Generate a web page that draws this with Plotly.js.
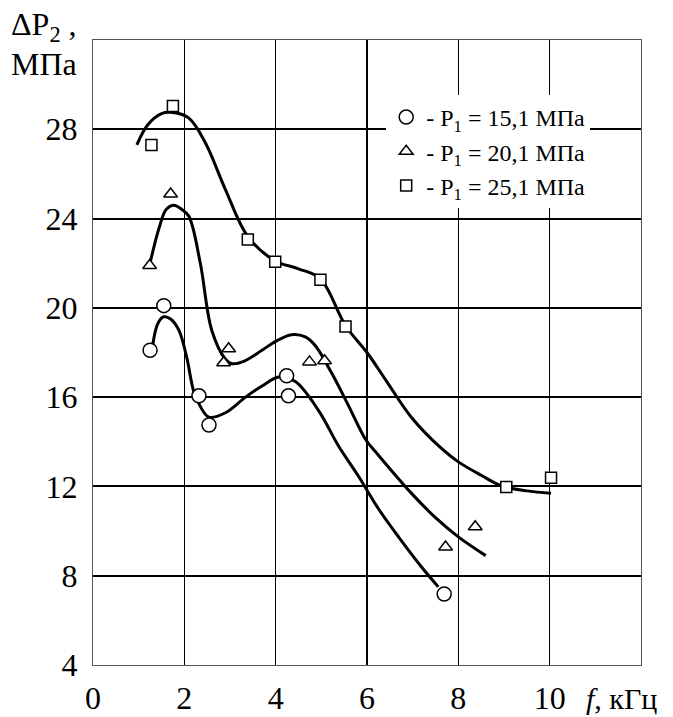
<!DOCTYPE html>
<html>
<head>
<meta charset="utf-8">
<script src="https://cdn.plot.ly/plotly-3.0.1.min.js"></script>
<style>html,body{margin:0;padding:0;background:#fff;}#chart{width:673px;height:717px;}</style>
</head>
<body>
<div id="chart"></div>
<script>
// Measured points
var circX = [1.25, 1.55, 2.32, 2.54, 4.24, 4.28, 7.69];
var circY = [18.1, 20.1, 16.06, 14.75, 16.96, 16.06, 7.18];
var triX = [1.24, 1.70, 2.97, 2.86, 4.74, 5.07, 7.72, 8.37];
var triY = [21.9, 25.1, 18.17, 17.54, 17.58, 17.63, 9.29, 10.19];
var sqX = [1.28, 1.75, 3.39, 3.99, 4.98, 5.53, 9.05, 10.03];
var sqY = [27.3, 29.04, 23.06, 22.07, 21.26, 19.16, 11.98, 12.39];

// Fitted curves
var circCurveX = [1.31, 1.42, 1.55, 1.7, 1.88, 2.05, 2.2, 2.32, 2.54, 2.9, 3.34, 3.7, 4.07, 4.43, 4.94, 5.38, 5.8, 6.25, 6.69, 7.19, 7.56];
var circCurveY = [18.35, 19.3, 19.6, 19.5, 19.0, 17.8, 16.3, 15.7, 15.1, 15.3, 16.0, 16.5, 16.9, 16.7, 15.4, 13.8, 12.5, 11.0, 9.74, 8.4, 7.5];
var triCurveX = [1.26, 1.45, 1.6, 1.77, 1.95, 2.1, 2.35, 2.6, 2.9, 3.04, 3.3, 3.7, 4.0, 4.35, 4.65, 4.87, 5.22, 5.6, 5.97, 6.25, 6.97, 7.5, 8.0, 8.6];
var triCurveY = [22.1, 23.6, 24.4, 24.6, 24.4, 24.1, 22.0, 19.0, 17.7, 17.5, 17.6, 18.1, 18.5, 18.8, 18.7, 18.3, 17.1, 15.6, 14.1, 13.4, 11.7, 10.6, 9.74, 8.9];
var sqCurveX = [0.96, 1.2, 1.5, 1.75, 2.1, 2.46, 2.9, 3.39, 3.99, 4.5, 4.98, 5.53, 6.0, 6.4, 6.97, 7.63, 8.0, 8.5, 8.94, 9.5, 10.03];
var sqCurveY = [27.3, 28.2, 28.7, 28.75, 28.5, 27.4, 25.3, 23.2, 22.1, 21.75, 21.3, 19.2, 18.0, 16.8, 15.1, 13.7, 13.1, 12.5, 12.03, 11.8, 11.7];

var xTicks = [0, 2, 4, 6, 8, 10];
var yTicks = [4, 8, 12, 16, 20, 24, 28];
var legendNames = ['- P<sub>1</sub> = 15,1 МПа', '- P<sub>1</sub> = 20,1 МПа', '- P<sub>1</sub> = 25,1 МПа'];

var serif = 'Liberation Serif';
var lineStyle = {color: '#000', width: 3, shape: 'spline', smoothing: 1};

var traces = [
  {x: circCurveX, y: circCurveY, mode: 'lines', line: lineStyle, showlegend: false, hoverinfo: 'skip'},
  {x: triCurveX, y: triCurveY, mode: 'lines', line: lineStyle, showlegend: false, hoverinfo: 'skip'},
  {x: sqCurveX, y: sqCurveY, mode: 'lines', line: lineStyle, showlegend: false, hoverinfo: 'skip'},
  {x: circX, y: circY, mode: 'markers', name: legendNames[0],
   marker: {symbol: 'circle', size: 14, color: '#fff', line: {color: '#000', width: 1.5}}},
  {x: triX, y: triY, mode: 'markers', name: legendNames[1],
   marker: {symbol: 'triangle-up', size: 12, color: '#fff', line: {color: '#000', width: 1.5}}},
  {x: sqX, y: sqY, mode: 'markers', name: legendNames[2],
   marker: {symbol: 'square', size: 11, color: '#fff', line: {color: '#000', width: 1.5}}}
];

var layout = {
  width: 673, height: 717,
  margin: {l: 93, r: 32, t: 40, b: 52},
  paper_bgcolor: '#fff', plot_bgcolor: '#fff',
  font: {family: serif, color: '#000', size: 32},
  xaxis: {
    range: [0, 12], tickvals: xTicks, ticktext: xTicks.map(String),
    showgrid: true, gridcolor: '#000', gridwidth: 1.5,
    zeroline: false, showline: true, mirror: true, linecolor: '#555', linewidth: 1,
    ticks: '', ticklabelstandoff: 5,
    tickfont: {family: serif, size: 32, color: '#000'}, fixedrange: true
  },
  yaxis: {
    range: [4, 32], tickvals: yTicks, ticktext: yTicks.map(String),
    showgrid: true, gridcolor: '#000', gridwidth: 2,
    zeroline: false, showline: true, mirror: true, linecolor: '#555', linewidth: 1,
    ticks: '', ticklabelstandoff: 8,
    tickfont: {family: serif, size: 32, color: '#000'}, fixedrange: true
  },
  showlegend: true,
  legend: {
    x: 0.535, y: 0.912, xanchor: 'left', yanchor: 'top',
    bgcolor: '#fff', borderwidth: 0,
    font: {family: serif, size: 24, color: '#000'},
    itemclick: false, itemdoubleclick: false
  },
  annotations: [
    {xref: 'paper', yref: 'paper', x: -84/548, y: 1 + 14/625, xanchor: 'left', yanchor: 'middle',
     text: 'ΔP<sub>2</sub> ,', showarrow: false, font: {family: serif, size: 32, color: '#000'}},
    {xref: 'paper', yref: 'paper', x: -84/548, y: 1 - 24/625, xanchor: 'left', yanchor: 'middle',
     text: 'МПа', showarrow: false, font: {family: serif, size: 32, color: '#000'}},
    {xref: 'paper', yref: 'paper', x: (584-93)/548, y: -(698-665)/625, xanchor: 'left', yanchor: 'middle',
     text: '<i>f</i>, кГц', showarrow: false, font: {family: serif, size: 30, color: '#000'}}
  ]
};

Plotly.newPlot('chart', traces, layout, {displayModeBar: false, staticPlot: true});
</script>
</body>
</html>
